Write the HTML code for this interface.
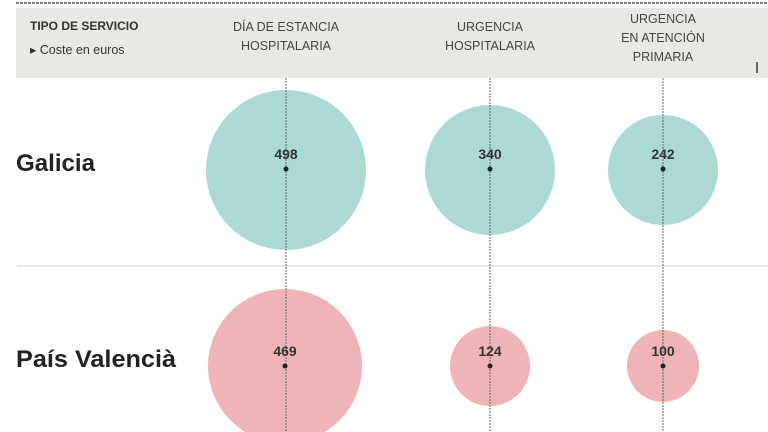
<!DOCTYPE html>
<html><head><meta charset="utf-8"><style>
html,body{margin:0;padding:0;background:#fff;width:768px;height:432px;overflow:hidden}
svg{display:block;font-family:"Liberation Sans",sans-serif}
</style></head><body>
<svg width="768" height="432" viewBox="0 0 768 432">
<line x1="16" y1="3" x2="768" y2="3" stroke="#555" stroke-width="1.5" stroke-dasharray="3,1"/>
<rect x="16" y="8" width="752" height="70" fill="#e9e8e3"/>
<text x="30" y="30" font-size="12" font-weight="bold" fill="#333">TIPO DE SERVICIO</text>
<text x="30" y="54" font-size="12.5" fill="#333">▸ Coste en euros</text>
<g font-size="12.5" fill="#444" text-anchor="middle">
<text x="286" y="31">DÍA DE ESTANCIA</text><text x="286" y="50">HOSPITALARIA</text>
<text x="490" y="31">URGENCIA</text><text x="490" y="50">HOSPITALARIA</text>
<text x="663" y="23">URGENCIA</text><text x="663" y="42">EN ATENCIÓN</text><text x="663" y="61">PRIMARIA</text>
</g>
<rect x="756" y="62" width="2" height="11" fill="#666"/>
<line x1="17" y1="266" x2="768" y2="266" stroke="#ccc" stroke-width="1"/>
<circle cx="286" cy="170" r="80" fill="#acd9d5"/>
<circle cx="490" cy="170" r="65" fill="#acd9d5"/>
<circle cx="663" cy="170" r="55" fill="#acd9d5"/>
<circle cx="285" cy="366" r="77" fill="#efb4b8"/>
<circle cx="490" cy="366" r="40" fill="#efb4b8"/>
<circle cx="663" cy="366" r="36" fill="#efb4b8"/>
<g stroke="#666" stroke-width="1" stroke-dasharray="2,1">
<line x1="286" y1="78" x2="286" y2="432"/>
<line x1="490" y1="78" x2="490" y2="432"/>
<line x1="663" y1="78" x2="663" y2="432"/>
</g>
<g fill="#222">
<circle cx="286" cy="169" r="2.5"/><circle cx="490" cy="169" r="2.5"/><circle cx="663" cy="169" r="2.5"/>
<circle cx="285" cy="366" r="2.5"/><circle cx="490" cy="366" r="2.5"/><circle cx="663" cy="366" r="2.5"/>
</g>
<g font-size="14" font-weight="bold" fill="#333" text-anchor="middle">
<text x="286" y="159">498</text><text x="490" y="159">340</text><text x="663" y="159">242</text>
<text x="285" y="356">469</text><text x="490" y="356">124</text><text x="663" y="356">100</text>
</g>
<text x="16" y="171" font-size="24" font-weight="bold" fill="#222" textLength="79" lengthAdjust="spacingAndGlyphs">Galicia</text>
<text x="16" y="367" font-size="24" font-weight="bold" fill="#222" textLength="160" lengthAdjust="spacingAndGlyphs">País Valencià</text>
</svg>
</body></html>
